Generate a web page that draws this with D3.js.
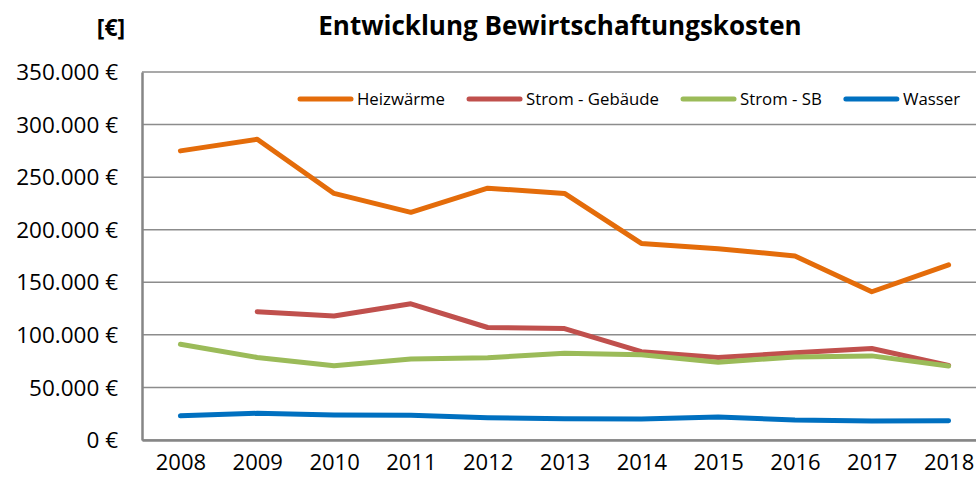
<!DOCTYPE html>
<html lang="de">
<head>
    <meta charset="UTF-8">
    <script src="https://d3js.org/d3.v7.min.js"></script>
    <style>
        body { font-family: "Open Sans", Arial, sans-serif; margin: 0; padding: 0; background: #fff; overflow: hidden; }
        .grid line { stroke: #8c8c8c; stroke-width: 1.5px; }
        .series { fill: none; stroke-width: 5px; stroke-linecap: round; stroke-linejoin: round; }
    </style>
</head>
<body>
    <svg id="chart" width="976" height="484"></svg>

    <script>
        // Werte (Euro)
        const years = ["2008", "2009", "2010", "2011", "2012", "2013", "2014", "2015", "2016", "2017", "2018"];
        const heizwaerme   = [275000, 286000, 234500, 216500, 239500, 234500, 187000, 182000, 175000, 141000, 166500];
        const stromGebaeude = [null, 122000, 118000, 129500, 107000, 106000, 84000, 78500, 83000, 87000, 71000];
        const stromSB      = [91000, 78500, 70700, 77000, 78300, 82500, 81000, 74000, 79000, 80000, 70400];
        const wasser       = [23000, 25400, 23800, 23500, 21200, 20300, 20000, 21900, 19000, 18000, 18400];
        const yTicks = [0, 50000, 100000, 150000, 200000, 250000, 300000, 350000];

        const seriesList = [
            { name: "Heizwärme", values: heizwaerme, color: "#E46C0A" },
            { name: "Strom - Gebäude", values: stromGebaeude, color: "#C0504D" },
            { name: "Strom - SB", values: stromSB, color: "#9BBB59" },
            { name: "Wasser", values: wasser, color: "#0070C0" }
        ];

        const margin = { top: 72, left: 142, bottom: 44 };
        const width = 976, height = 484;
        const plotRight = 987;

        const svg = d3.select("#chart");

        const x = d3.scalePoint()
            .domain(years)
            .range([margin.left, plotRight])
            .padding(0.5);

        const y = d3.scaleLinear()
            .domain([0, 350000])
            .range([height - margin.bottom, margin.top]);

        const fmt = v => d3.format(",")(v).replace(/,/g, ".") + " €";

        // Gitterlinien
        svg.append("g")
            .attr("class", "grid")
            .selectAll("line")
            .data(yTicks)
            .enter()
            .append("line")
            .attr("x1", margin.left)
            .attr("x2", plotRight)
            .attr("y1", d => y(d))
            .attr("y2", d => y(d));

        // Achsen
        const yAxis = svg.append("g")
            .attr("transform", `translate(${margin.left},0)`)
            .call(d3.axisLeft(y).tickValues(yTicks).tickFormat(fmt).tickSize(0).tickPadding(24));
        yAxis.select(".domain").attr("stroke", "#868686").attr("stroke-width", 2.5);
        yAxis.selectAll("text")
            .style("font-family", "'Open Sans', sans-serif")
            .style("font-size", "22.5px")
            .attr("fill", "#000")
            .attr("dy", "0.34em");

        const xAxis = svg.append("g")
            .attr("transform", `translate(0,${y(0)})`)
            .call(d3.axisBottom(x).tickSize(0).tickPadding(14));
        xAxis.select(".domain").attr("stroke", "#868686").attr("stroke-width", 2.5);
        xAxis.selectAll("text")
            .style("font-family", "'Open Sans', sans-serif")
            .style("font-size", "22px")
            .attr("fill", "#000");

        // Linien
        const line = d3.line()
            .defined(d => d != null)
            .x((d, i) => x(years[i]))
            .y(d => y(d));

        svg.selectAll(".series")
            .data(seriesList)
            .enter()
            .append("path")
            .attr("class", "series")
            .attr("stroke", d => d.color)
            .attr("d", d => line(d.values));

        // Legende
        const legend = svg.append("g").attr("transform", "translate(298,99)");
        let lx = 0;
        seriesList.forEach(s => {
            const g = legend.append("g").attr("transform", `translate(${lx},0)`);
            g.append("line")
                .attr("x1", 2).attr("x2", 53)
                .attr("stroke", s.color)
                .attr("stroke-width", 5)
                .attr("stroke-linecap", "round");
            const t = g.append("text")
                .attr("x", 59)
                .attr("dy", "0.35em")
                .style("font-size", "16.8px")
                .text(s.name);
            lx += 59 + t.node().getComputedTextLength() + 22;
        });

        // Titel
        svg.append("text")
            .attr("x", 560)
            .attr("y", 35)
            .attr("text-anchor", "middle")
            .style("font-size", "26px")
            .style("font-weight", "bold")
            .text("Entwicklung Bewirtschaftungskosten");

        svg.append("text")
            .attr("x", 111)
            .attr("y", 36)
            .attr("text-anchor", "middle")
            .style("font-size", "23px")
            .style("font-weight", "bold")
            .text("[€]");
    </script>
</body>
</html>
